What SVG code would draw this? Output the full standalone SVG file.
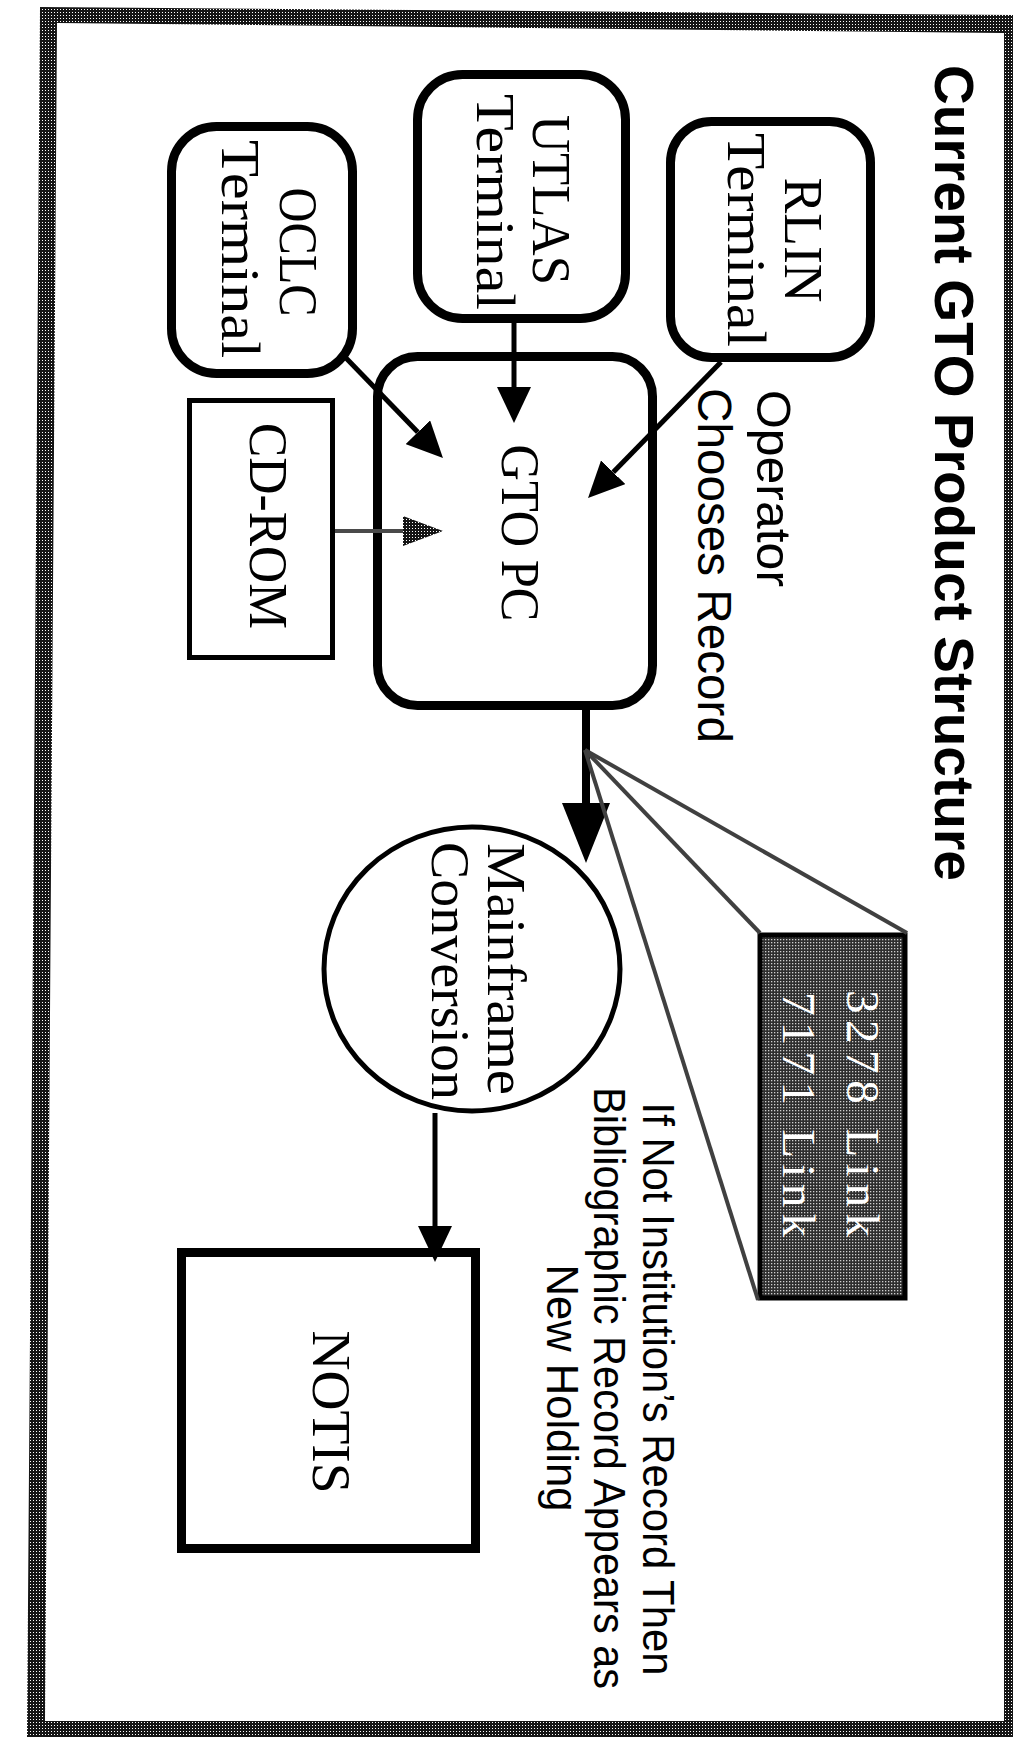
<svg xmlns="http://www.w3.org/2000/svg" width="1013" height="1737" viewBox="0 0 1013 1737">
<defs>
<pattern id="hatch" width="3" height="3" patternUnits="userSpaceOnUse">
<rect width="3" height="3" fill="#151515"/>
<rect width="1" height="1" fill="#ffffff"/>
</pattern>
<pattern id="hatchBox" width="3" height="3" patternUnits="userSpaceOnUse">
<rect width="3" height="3" fill="#2e2e2e"/>
<rect width="1.3" height="1.3" fill="#cfcfcf"/>
</pattern>
<marker id="arr" viewBox="0 0 36 34" refX="0" refY="17" markerWidth="36" markerHeight="34" markerUnits="userSpaceOnUse" orient="auto">
<path d="M0,0 L36,17 L0,34 Z" fill="#000"/>
</marker>
<marker id="arrBig" viewBox="0 0 60 48" refX="0" refY="24" markerWidth="60" markerHeight="48" markerUnits="userSpaceOnUse" orient="auto">
<path d="M0,0 L60,24 L0,48 Z" fill="#000"/>
</marker>
<marker id="arrGray" viewBox="0 0 40 30" refX="0" refY="15" markerWidth="40" markerHeight="30" markerUnits="userSpaceOnUse" orient="auto">
<path d="M0,0 L40,15 L0,30 Z" fill="url(#hatch)"/>
</marker>
<style>
.rbox{fill:#fff;stroke:#000;stroke-width:9}
.lbl{font-family:"Liberation Serif","DejaVu Serif",serif;font-size:55px;fill:#000}
.note{font-family:"Liberation Sans","DejaVu Sans",sans-serif;font-size:44px;fill:#000}
.title{font-family:"Liberation Sans","DejaVu Sans",sans-serif;font-size:55px;font-weight:bold;fill:#000}
.conn{fill:none;stroke:#000;stroke-width:5}
.fan{fill:none;stroke:#404040;stroke-width:4}
</style>
</defs>
<rect width="1013" height="1737" fill="#fff"/>
<path id="frame" fill-rule="evenodd" fill="url(#hatch)" d="M40,7 L1013,15 L1013,1737 L27,1737 Z M57,23 L1004,33 L1004,1721 L45,1721 Z"/>

<text id="title" class="title" transform="translate(935,473) rotate(90)" text-anchor="middle" textLength="816" lengthAdjust="spacingAndGlyphs">Current GTO Product Structure</text>

<g id="rlin">
<rect class="rbox" x="670.5" y="121.5" width="200" height="236" rx="41"/>
<text class="lbl" transform="translate(785,240) rotate(90)" text-anchor="middle" textLength="125" lengthAdjust="spacingAndGlyphs">RLIN</text>
<text class="lbl" transform="translate(728,240) rotate(90)" text-anchor="middle" textLength="214" lengthAdjust="spacingAndGlyphs">Terminal</text>
</g>

<g id="utlas">
<rect class="rbox" x="417.5" y="74.5" width="208" height="244" rx="45"/>
<text class="lbl" transform="translate(533,200) rotate(90)" text-anchor="middle" textLength="170" lengthAdjust="spacingAndGlyphs">UTLAS</text>
<text class="lbl" transform="translate(477,202) rotate(90)" text-anchor="middle" textLength="216" lengthAdjust="spacingAndGlyphs">Terminal</text>
</g>

<g id="oclc">
<rect class="rbox" x="171.5" y="126.5" width="181" height="247" rx="45"/>
<text class="lbl" transform="translate(280,252) rotate(90)" text-anchor="middle" textLength="129" lengthAdjust="spacingAndGlyphs">OCLC</text>
<text class="lbl" transform="translate(222,249) rotate(90)" text-anchor="middle" textLength="218" lengthAdjust="spacingAndGlyphs">Terminal</text>
</g>

<g id="gtopc">
<rect class="rbox" x="377.5" y="356.5" width="275" height="349" rx="40"/>
<text class="lbl" transform="translate(502,533) rotate(90)" text-anchor="middle" textLength="177" lengthAdjust="spacingAndGlyphs">GTO PC</text>
</g>

<g id="cdrom">
<rect x="189.5" y="400.5" width="143" height="257" fill="#fff" stroke="#000" stroke-width="5"/>
<text class="lbl" transform="translate(250,526) rotate(90)" text-anchor="middle" textLength="206" lengthAdjust="spacingAndGlyphs">CD-ROM</text>
</g>

<g id="operator">
<text class="note" style="font-size:48px" transform="translate(757,390) rotate(90)" textLength="197" lengthAdjust="spacingAndGlyphs">Operator</text>
<text class="note" style="font-size:48px" transform="translate(698,388) rotate(90)" textLength="355" lengthAdjust="spacingAndGlyphs">Chooses Record</text>
</g>

<g id="link">
<rect x="760" y="935" width="145" height="363" fill="url(#hatchBox)" stroke="#000" stroke-width="5"/>
<text class="lbl" style="fill:#fff;font-size:47px" transform="translate(847,990) rotate(90)" textLength="247" lengthAdjust="spacing">3278 Link</text>
<text class="lbl" style="fill:#fff;font-size:47px" transform="translate(783,992) rotate(90)" textLength="245" lengthAdjust="spacing">7171 Link</text>
</g>

<g id="mainframe">
<ellipse cx="472" cy="969" rx="148" ry="142" fill="#fff" stroke="#000" stroke-width="5"/>
<text class="lbl" transform="translate(488,969) rotate(90)" text-anchor="middle" textLength="252" lengthAdjust="spacingAndGlyphs">Mainframe</text>
<text class="lbl" transform="translate(432,971) rotate(90)" text-anchor="middle" textLength="258" lengthAdjust="spacingAndGlyphs">Conversion</text>
</g>

<g id="note">
<text class="note" transform="translate(643,1389) rotate(90)" text-anchor="middle" textLength="573" lengthAdjust="spacingAndGlyphs">If Not Institution’s Record Then</text>
<text class="note" transform="translate(594,1388) rotate(90)" text-anchor="middle" textLength="602" lengthAdjust="spacingAndGlyphs">Bibliographic Record Appears as</text>
<text class="note" transform="translate(547,1388) rotate(90)" text-anchor="middle" textLength="247" lengthAdjust="spacingAndGlyphs">New Holding</text>
</g>

<g id="notis">
<rect x="181.5" y="1252.5" width="294" height="296" fill="#fff" stroke="#000" stroke-width="9"/>
<text class="lbl" transform="translate(313,1412) rotate(90)" text-anchor="middle" textLength="163" lengthAdjust="spacingAndGlyphs">NOTIS</text>
</g>

<g id="connectors">
<line class="conn" x1="514" y1="323" x2="514" y2="387" marker-end="url(#arr)"/>
<line class="conn" x1="721" y1="362" x2="613.2" y2="472.3" marker-end="url(#arr)"/>
<line class="conn" x1="346" y1="358" x2="417.9" y2="432.2" marker-end="url(#arr)"/>
<line x1="335" y1="531" x2="403" y2="531" stroke="#4a4a4a" stroke-width="4" marker-end="url(#arrGray)"/>
<line class="conn" x1="586" y1="708" x2="586" y2="803" style="stroke-width:8" marker-end="url(#arrBig)"/>
<line class="conn" x1="435" y1="1113" x2="435" y2="1226" marker-end="url(#arr)"/>
<line class="fan" x1="585" y1="750" x2="907" y2="933"/>
<line class="fan" x1="585" y1="750" x2="760" y2="933"/>
<line class="fan" x1="585" y1="750" x2="758" y2="1300"/>
</g>
</svg>
